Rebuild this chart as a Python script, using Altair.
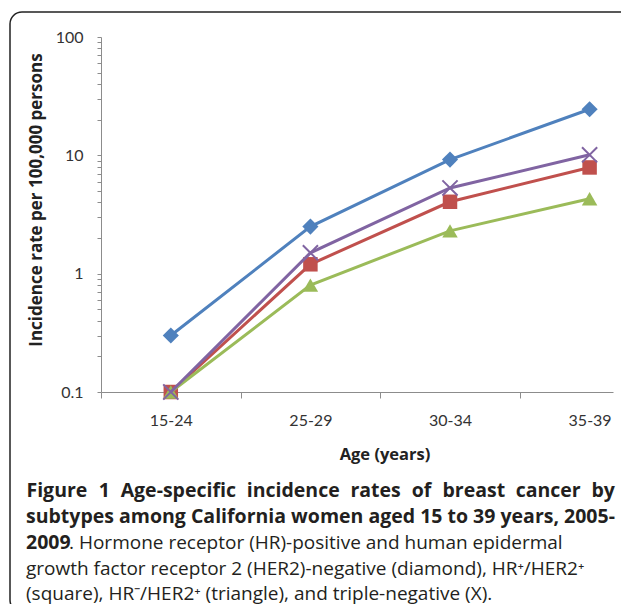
import altair as alt
import pandas as pd

# ---- data ----
ages = ["15-24", "25-29", "30-34", "35-39"]
hr_pos_her2_neg = [0.30, 2.5, 9.2, 24.5]      # diamond
hr_pos_her2_pos = [0.10, 1.2, 4.05, 7.9]      # square
hr_neg_her2_pos = [0.10, 0.80, 2.3, 4.3]      # triangle
triple_negative = [0.10, 1.5, 5.3, 10.1]      # X

series = [
    ("HR+/HER2-", hr_pos_her2_neg, "#4F81BD", "diamond", 260),
    ("HR+/HER2+", hr_pos_her2_pos, "#C0504D", "square", 210),
    ("HR-/HER2+", hr_neg_her2_pos, "#9BBB59", "triangle-up", 240),
    ("Triple-negative", triple_negative, "#8064A2", "x", 230),
]

rows = []
for name, vals, _, _, _ in series:
    for i, (a, v) in enumerate(zip(ages, vals)):
        rows.append({"idx": i, "age": a, "series": name, "value": v})
df = pd.DataFrame(rows)

# ---- layout ----
W, H = 512, 355
band = 139.6
xmax = -0.5 + W / band

label_arr = "[" + ",".join("'%s'" % a for a in ages) + "]"
x_enc = alt.X(
    "idx:Q",
    scale=alt.Scale(domain=[-0.5, xmax], nice=False, zero=False),
    axis=alt.Axis(
        values=[-0.5, 0.5, 1.5, 2.5],
        labelExpr=label_arr + "[round(datum.value + 0.5)]",
        labelOffset=band / 2,
        labelOverlap=False,
        labelFlush=False,
        labelBound=False,
        grid=False,
        tickSize=6,
        labelPadding=14,
        labelFont="Lato",
        labelFontSize=16,
        labelColor="#333333",
        domainColor="#8c8c8c",
        tickColor="#8c8c8c",
        title=None,
    ),
)

yticks = []
for dec in [0.1, 1, 10]:
    for m in range(1, 10):
        yticks.append(round(dec * m, 3))
yticks.append(100)

y_enc = alt.Y(
    "value:Q",
    scale=alt.Scale(type="log", domain=[0.1, 100], nice=False),
    axis=alt.Axis(
        values=yticks,
        labelExpr="(datum.value == 0.1 || datum.value == 1 || datum.value == 10 || datum.value == 100) ? datum.label : ''",
        format="~g",
        labelOverlap=False,
        labelFlush=False,
        grid=False,
        tickSize=4,
        labelPadding=14,
        labelFont="Lato",
        labelFontSize=16,
        labelColor="#333333",
        domainColor="#8c8c8c",
        tickColor="#8c8c8c",
        title=None,
    ),
)

base = alt.Chart(df)
layers = []
xpath = "M-1,-1L1,1M1,-1L-1,1"
for name, vals, color, shape, size in series:
    sub = base.transform_filter(alt.datum.series == name)
    layers.append(sub.mark_line(color=color, strokeWidth=3).encode(x=x_enc, y=y_enc))
    if shape == "x":
        layers.append(
            sub.mark_point(shape=xpath, filled=False, stroke=color, strokeWidth=2, size=size, opacity=1)
            .encode(x=x_enc, y=y_enc)
        )
    else:
        layers.append(
            sub.mark_point(shape=shape, filled=True, color=color, size=size, opacity=1)
            .encode(x=x_enc, y=y_enc)
        )

one = pd.DataFrame({"a": [0]})

def txt(t, x, y, bold=False, size=19, align="left", angle=0, font="Open Sans", color="#231f20", baseline="alphabetic"):
    return alt.Chart(one).mark_text(
        text=t, align=align, baseline=baseline, font=font,
        fontSize=size, fontWeight="bold" if bold else "normal",
        color=color, angle=angle,
    ).encode(x=alt.value(x), y=alt.value(y))

ox, oy = 101, 37  # plot origin on the page

y_title = txt("Incidence rate per 100,000 persons", 37 - ox, 200 - oy, True, 17, "center", 270, "Open Sans", "#222222", "middle")
x_title = txt("Age (years)", 385 - ox, 455 - oy, True, 16.5, "center", 0, "Open Sans", "#222222", "middle")

# caption; the first line is justified in the original, so its words are spread out
line1_words = ["Figure", "1", "Age-specific", "incidence", "rates", "of", "breast", "cancer", "by"]
line1_centers = [56.9, 104.4, 178.3, 293.2, 375.6, 421.5, 473.8, 548.2, 603.2]
cap_bold2 = "subtypes among California women aged 15 to 39 years, 2005-"
cap_l3b = "2009"
cap_l3 = ". Hormone receptor (HR)-positive and human epidermal"
cap_l4 = "growth factor receptor 2 (HER2)-negative (diamond), HR\u207a/HER2\u207a"
cap_l5 = "(square), HR\u207b/HER2\u207a (triangle), and triple-negative (X)."

base_lines = [497, 523, 549, 574.5, 599.5]
caption = [txt(w, cx - ox, base_lines[0] - oy, True, 19.5, "center")
           for w, cx in zip(line1_words, line1_centers)]
caption += [
    txt(cap_bold2, 26 - ox, base_lines[1] - oy, True, 19.5),
    txt(cap_l3b, 26 - ox, base_lines[2] - oy, True, 19.5),
    txt(cap_l3, 69 - ox, base_lines[2] - oy),
    txt(cap_l4, 26 - ox, base_lines[3] - oy),
    txt(cap_l5, 26 - ox, base_lines[4] - oy),
]

border = alt.Chart(one).mark_rect(
    fill="transparent", stroke="#222222", strokeWidth=1.5, cornerRadius=12
).encode(x=alt.value(10 - ox), x2=alt.value(660 - ox), y=alt.value(12 - oy), y2=alt.value(612 - oy))

chart = alt.layer(border, *layers, y_title, x_title, *caption).properties(
    width=W, height=H,
    autosize=alt.AutoSizeParams(type="none"),
    padding={"left": 93, "top": 29, "right": 8, "bottom": 212},
).configure_view(stroke=None)

chart.save("out.html", embed_options={"renderer": "svg", "actions": False})
